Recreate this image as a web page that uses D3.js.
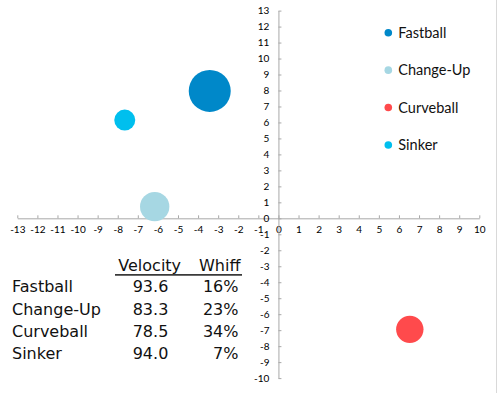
<!DOCTYPE html>
<html>
<head>
<meta charset="utf-8">
<script src="https://cdn.jsdelivr.net/npm/d3@7"></script>
<style>
  html, body { margin: 0; padding: 0; background: #fff; }
  svg { display: block; }
</style>
</head>
<body>
<svg id="chart" width="498" height="393"></svg>
<script>
// ---- data ----
const pitches   = ["Fastball", "Change-Up", "Curveball", "Sinker"];
const hMove     = [-3.42, -6.16, 6.54, -7.65];   // x values
const vMove     = [7.97, 0.73, -6.95, 6.15];     // y values
const usage     = [40, 19.5, 17, 10];            // bubble sizes
const velocity  = [93.6, 83.3, 78.5, 94.0];
const whiff     = [16, 23, 34, 7];
const colors    = ["#0088c9", "#a6d7e3", "#ff4a4c", "#00bfee"];
const xTicks    = d3.range(-13, 11);
const yTicks    = d3.range(-10, 14);
const tableHead = ["Velocity", "Whiff"];

// ---- layout ----
const svg = d3.select("#chart");
const x = d3.scaleLinear().domain([-13, 10]).range([17.3, 479.3]);
const y = d3.scaleLinear().domain([-10, 13]).range([378.1, 10.6]);
const r = d3.scaleSqrt().domain([0, d3.max(usage)]).range([0, 21]);

const axisColor = "#a8a8a8";
const tickFont = "Lato, 'DejaVu Sans', sans-serif";
const fmt = d => String(d);   // plain hyphen minus like the reference

// right frame line
svg.append("line")
  .attr("x1", 496.5).attr("x2", 496.5).attr("y1", 0).attr("y2", 393)
  .attr("stroke", "#d9d9d9").attr("stroke-width", 1);

// x axis
const gx = svg.append("g")
  .attr("transform", `translate(0,${y(0)})`)
  .call(d3.axisBottom(x).tickValues(xTicks).tickFormat(fmt)
        .tickSize(-3).tickSizeOuter(0).tickPadding(8));
// y axis
const gy = svg.append("g")
  .attr("transform", `translate(${x(0)},0)`)
  .call(d3.axisLeft(y).tickValues(yTicks).tickFormat(fmt)
        .tickSize(-3).tickSizeOuter(0).tickPadding(9));

[gx, gy].forEach(g => {
  g.select(".domain").attr("stroke", axisColor);
  g.selectAll(".tick line").attr("stroke", axisColor);
  g.selectAll(".tick text")
    .attr("fill", "#000")
    .style("font-family", tickFont)
    .style("font-size", "10px");
});

// bubbles
svg.append("g").selectAll("circle")
  .data(pitches)
  .join("circle")
  .attr("cx", (d, i) => x(hMove[i]))
  .attr("cy", (d, i) => y(vMove[i]))
  .attr("r", (d, i) => r(usage[i]))
  .attr("fill", (d, i) => colors[i]);

// legend
const legendY = d3.scalePoint().domain(pitches).range([32.7, 145]);
const lg = svg.append("g").selectAll("g")
  .data(pitches)
  .join("g")
  .attr("transform", d => `translate(388.3,${legendY(d)})`);
lg.append("circle").attr("r", 3.8).attr("fill", (d, i) => colors[i]);
lg.append("text")
  .attr("x", 10).attr("y", 5.3)
  .text(d => d)
  .attr("fill", "#111")
  .style("font-family", "Lato, 'Open Sans', sans-serif")
  .style("font-size", "14.5px");

// table
const tFont = "'DejaVu Sans', sans-serif";
const rowY = d3.scalePoint().domain(pitches).range([292.3, 359.3]);
const tbl = svg.append("g")
  .style("font-family", tFont)
  .style("font-size", "16px")
  .attr("fill", "#111");

tbl.append("text").attr("x", 149.7).attr("y", 271).attr("text-anchor", "middle").text(tableHead[0]);
tbl.append("text").attr("x", 219.7).attr("y", 271).attr("text-anchor", "middle").text(tableHead[1]);
tbl.append("line")
  .attr("x1", 115).attr("x2", 242).attr("y1", 274.8).attr("y2", 274.8)
  .attr("stroke", "#3a3a3a").attr("stroke-width", 1.8);

const rows = tbl.selectAll("g.row")
  .data(pitches)
  .join("g")
  .attr("class", "row")
  .attr("transform", d => `translate(0,${rowY(d)})`);
rows.append("text").attr("x", 12).text(d => d);
rows.append("text").attr("x", 150.5).attr("text-anchor", "middle")
  .text((d, i) => velocity[i].toFixed(1));
rows.append("text").attr("x", 238.5).attr("text-anchor", "end")
  .text((d, i) => whiff[i] + "%");
</script>
</body>
</html>
